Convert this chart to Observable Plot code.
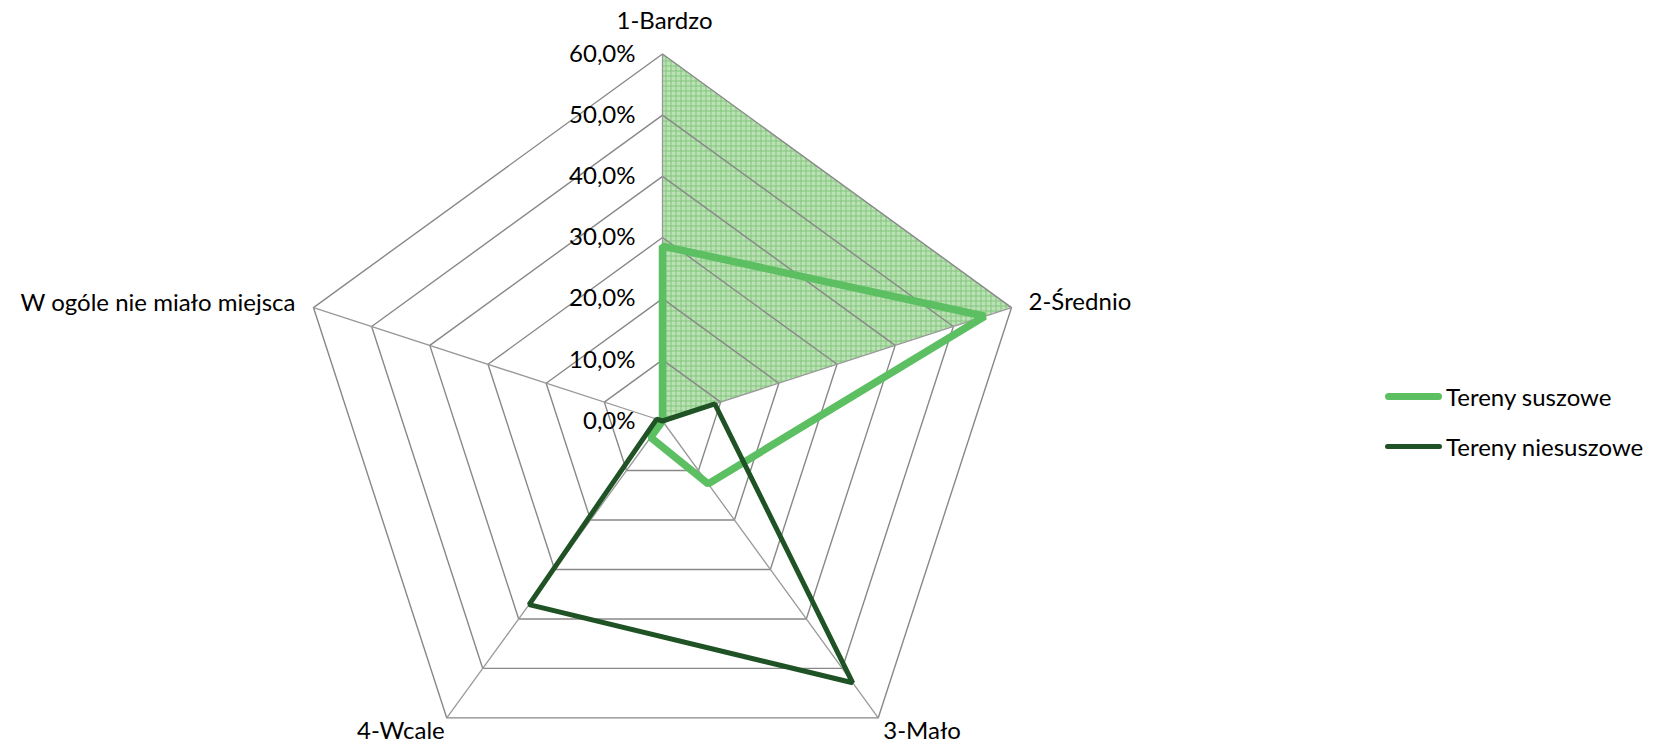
<!DOCTYPE html>
<html><head><meta charset="utf-8">
<script src="https://cdn.jsdelivr.net/npm/d3@7"></script>
<script src="https://cdn.jsdelivr.net/npm/@observablehq/plot@0.6"></script>
<style>
body{margin:0;background:#fff;font-family:Lato,"Open Sans",sans-serif;}
#wrap{position:relative;width:1661px;height:741px;}
#legend{position:absolute;left:1385px;top:371px;font-size:24px;color:#000;font-family:Lato,sans-serif;}
.item{display:flex;align-items:center;height:50px;white-space:nowrap}
.sw{width:57px;border-radius:4px;margin-right:4px}
</style></head><body>
<div id="wrap"><div id="chart"></div><div id="legend"></div></div>
<script>
// ---- data ----
const categories = ["1-Bardzo", "2-Średnio", "3-Mało", "4-Wcale", "W ogóle nie miało miejsca"];
const suszowe = [28.6, 55.4, 12.7, 3.3, 0.0];
const niesuszowe = [0.0, 9.0, 52.9, 37.1, 1.0];
const highlight = [60, 60, 0, 0, 0];
const seriesNames = ["Tereny suszowe", "Tereny niesuszowe"];
const tickValues = [0, 10, 20, 30, 40, 50, 60];
const tickLabels = ["0,0%", "10,0%", "20,0%", "30,0%", "40,0%", "50,0%", "60,0%"];

// ---- styles / layout ----
const seriesColors = ["#5cbf62", "#1f5224"];
const seriesWidths = [7.5, 5];
const W = 1661, H = 741, cx = 662, cy = 420.5, k = 367 / 60;
const labelPlace = [
  {dx: 2, dy: -33, anchor: "middle"},
  {dx: 17, dy: -5, anchor: "start"},
  {dx: 5, dy: 13, anchor: "start"},
  {dx: -2, dy: 13, anchor: "end"},
  {dx: -18, dy: -4, anchor: "end"}
];

const n = categories.length;
const ang = i => i * 2 * Math.PI / n;
const px = (i, r) => r * Math.sin(ang(i));
const py = (i, r) => r * Math.cos(ang(i));
const maxR = tickValues[tickValues.length - 1];

const gridPts = tickValues.filter(t => t > 0).flatMap(t => categories.map((c, i) => ({t, x: px(i, t), y: py(i, t)})));
const spokes = categories.map((c, i) => ({x: px(i, maxR), y: py(i, maxR)}));
const hlPts = highlight.map((v, i) => ({x: px(i, v), y: py(i, v)}));
const seriesPts = [suszowe, niesuszowe].flatMap((arr, s) => arr.map((v, i) => ({s: seriesNames[s], x: px(i, v), y: py(i, v)})));
const catLabels = categories.map((c, i) => ({c, i, x: px(i, maxR), y: py(i, maxR)}));
const ticks = tickValues.map((t, j) => ({t, label: tickLabels[j]}));

const marks = [
  Plot.line(hlPts, {x: "x", y: "y", curve: "linear-closed", fill: "url(#hatch)", stroke: "none"}),
  Plot.line(gridPts, {x: "x", y: "y", z: "t", curve: "linear-closed", stroke: "#888888", strokeWidth: 1.4}),
  Plot.link(spokes, {x1: () => 0, y1: () => 0, x2: "x", y2: "y", stroke: "#999999", strokeWidth: 1.3}),
];
seriesNames.forEach((name, s) => {
  marks.push(Plot.line(seriesPts.filter(d => d.s === name), {x: "x", y: "y", curve: "linear-closed", stroke: seriesColors[s], strokeWidth: seriesWidths[s], strokeLinejoin: "miter"}));
});
marks.push(Plot.text(ticks, {x: () => 0, y: "t", text: "label", textAnchor: "end", dx: -27, lineAnchor: "middle", fontSize: 24, fill: "#000"}));
catLabels.forEach((d, i) => {
  const p = labelPlace[i];
  marks.push(Plot.text([d], {x: "x", y: "y", text: "c", textAnchor: p.anchor, dx: p.dx, dy: p.dy, lineAnchor: "middle", fontSize: 24, fill: "#000"}));
});

const chart = Plot.plot({
  width: W, height: H,
  marginTop: 0, marginBottom: 0, marginLeft: 0, marginRight: 0,
  x: {domain: [-cx / k, (W - cx) / k], range: [0, W], axis: null},
  y: {domain: [-(H - cy) / k, cy / k], range: [H, 0], axis: null},
  style: {fontFamily: "Lato, 'Open Sans', sans-serif", background: "#fff", overflow: "visible"},
  marks
});

const defs = d3.select(chart).insert("defs", ":first-child");
const pat = defs.append("pattern").attr("id", "hatch").attr("patternUnits", "userSpaceOnUse").attr("width", 5).attr("height", 5);
pat.append("rect").attr("width", 5).attr("height", 5).attr("fill", "#bde1b7");
pat.append("rect").attr("width", 5).attr("height", 1).attr("fill", "#80c67a");
pat.append("rect").attr("width", 1).attr("height", 5).attr("fill", "#80c67a");

document.getElementById("chart").appendChild(chart);

const legend = d3.select("#legend");
seriesNames.forEach((name, s) => {
  const it = legend.append("div").attr("class", "item");
  it.append("div").attr("class", "sw").style("height", (s === 0 ? 7 : 5) + "px").style("background", seriesColors[s]);
  it.append("span").text(name);
});
</script>
</body></html>
